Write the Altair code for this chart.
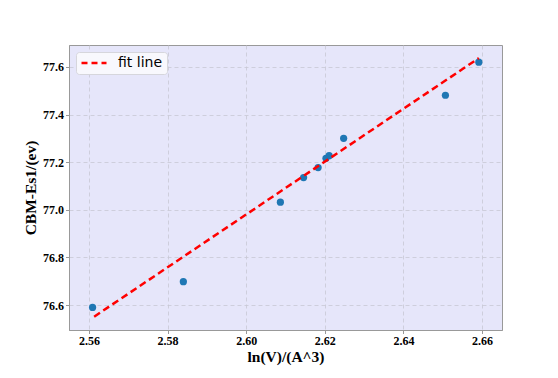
import altair as alt
import pandas as pd

# data
x_vals = [2.5609, 2.5840, 2.6087, 2.6146, 2.6183, 2.6203, 2.6211, 2.6248, 2.6507, 2.6592]
y_vals = [76.590, 76.698, 77.032, 77.135, 77.177, 77.216, 77.227, 77.300, 77.481, 77.620]
fit_x = [2.5613, 2.6592]
fit_y = [76.551, 77.637]
fit_name = ["fit line", "fit line"]
x_ticks = [2.56, 2.58, 2.60, 2.62, 2.64, 2.66]
y_ticks = [76.6, 76.8, 77.0, 77.2, 77.4, 77.6]

pts_df = pd.DataFrame({"x": x_vals, "y": y_vals})
fit_df = pd.DataFrame({"x": fit_x, "y": fit_y, "series": fit_name})

xscale = alt.Scale(domain=[2.5549, 2.6651], nice=False, zero=False)
yscale = alt.Scale(domain=[76.495, 77.692], nice=False, zero=False)

axis_style = dict(
    labelFont="Liberation Serif",
    labelFontWeight="bold",
    labelFontSize=12,
    labelColor="#000000",
    titleFont="Liberation Serif",
    titleFontWeight="bold",
    titleFontSize=15.5,
    titleColor="#000000",
    grid=True,
    gridColor="#c8c8d4",
    gridDash=[4, 3],
    gridWidth=0.8,
    domainColor="#999999",
    tickColor="#999999",
    tickSize=3.5,
    labelPadding=2,
)

xaxis = alt.Axis(title="ln(V)/(A^3)", values=x_ticks, format=".2f", titlePadding=3, **axis_style)
yaxis = alt.Axis(title="CBM-Es1/(ev)", values=y_ticks, format=".1f", titlePadding=4, **axis_style)

points = alt.Chart(pts_df).mark_circle(size=52, color="#1f77b4", opacity=1).encode(
    x=alt.X("x:Q", scale=xscale, axis=xaxis),
    y=alt.Y("y:Q", scale=yscale, axis=yaxis),
)

line = alt.Chart(fit_df).mark_line(strokeDash=[7, 4], strokeWidth=2.5).encode(
    x=alt.X("x:Q", scale=xscale),
    y=alt.Y("y:Q", scale=yscale),
    color=alt.Color(
        "series:N",
        scale=alt.Scale(domain=["fit line"], range=["#ff0000"]),
        legend=alt.Legend(
            title=None,
            orient="top-left",
            offset=7,
            padding=4,
            fillColor="#f8f8fd",
            strokeColor="#d6d6dc",
            cornerRadius=3,
            symbolType="stroke",
            symbolSize=625,
            symbolStrokeWidth=2.5,
            symbolDash=[6, 4],
            clipHeight=14,
            labelFont="DejaVu Sans",
            labelFontSize=14,
            labelColor="#000000",
            labelOffset=10,
        ),
    ),
)

chart = (
    alt.layer(points, line)
    .properties(
        width=433,
        height=285,
        autosize=alt.AutoSizeParams(type="none"),
        padding={"left": 69, "top": 45, "right": 56, "bottom": 48},
        background="white",
    )
    .configure_view(fill="#e6e6fa", stroke="#999999", strokeWidth=1)
)

chart.save("out.html", embed_options={"renderer": "svg", "actions": False})
